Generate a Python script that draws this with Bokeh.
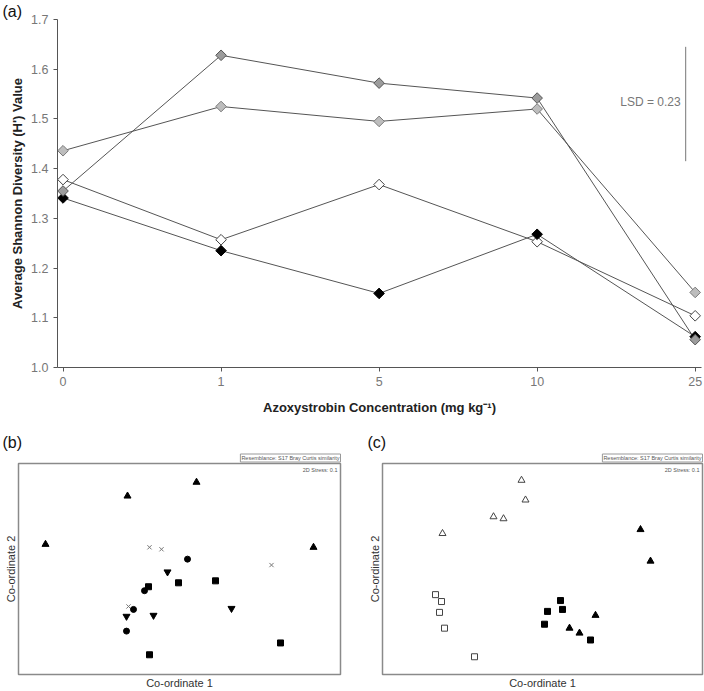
import math
from bokeh.plotting import figure
from bokeh.layouts import column, row
from bokeh.models import Range1d, FixedTicker, Label, Title, PrintfTickFormatter
from bokeh.embed import file_html
from bokeh.resources import INLINE

# ---------------- data: panel (a) ----------------
conc_labels = ["0", "1", "5", "10", "25"]
conc_index = [0, 1, 2, 3, 4]
dark_gray_series = [1.355, 1.628, 1.572, 1.542, 1.056]
light_gray_series = [1.436, 1.525, 1.495, 1.520, 1.151]
open_series = [1.378, 1.257, 1.368, 1.253, 1.104]
black_series = [1.341, 1.235, 1.149, 1.268, 1.062]
y_ticks = [1.0, 1.1, 1.2, 1.3, 1.4, 1.5, 1.6, 1.7]
lsd_value = 0.23
lsd_x = 3.94
lsd_bottom = 1.415

# ---------------- data: panel (b) (nMDS coordinates) ----------------
b_tri_up_x = [-1.34, -0.52, 0.17, 1.34]
b_tri_up_y = [0.25, 0.74, 0.88, 0.22]
b_cross_x = [-0.30, -0.18, 0.92, -0.51]
b_cross_y = [0.22, 0.20, 0.04, -0.38]
b_circle_x = [0.08, -0.35, -0.46, -0.53]
b_circle_y = [0.10, -0.22, -0.41, -0.63]
b_square_x = [-0.31, -0.01, 0.36, 1.01, -0.30]
b_square_y = [-0.18, -0.14, -0.12, -0.75, -0.87]
b_tri_down_x = [-0.12, -0.53, -0.26, 0.52]
b_tri_down_y = [-0.03, -0.48, -0.47, -0.40]

# ---------------- data: panel (c) (nMDS coordinates) ----------------
c_open_tri_x = [-0.21, -0.17, -0.49, -0.39, -1.00]
c_open_tri_y = [0.90, 0.70, 0.53, 0.51, 0.36]
c_fill_tri_x = [0.98, 1.08, 0.53, 0.27, 0.37]
c_fill_tri_y = [0.40, 0.08, -0.47, -0.60, -0.65]
c_open_sq_x = [-1.07, -1.01, -1.03, -0.98, -0.68]
c_open_sq_y = [-0.26, -0.33, -0.44, -0.60, -0.89]
c_fill_sq_x = [0.18, 0.05, 0.20, 0.02, 0.48]
c_fill_sq_y = [-0.32, -0.43, -0.41, -0.56, -0.72]

FONT = "Liberation Sans"

# ================= panel (a) =================
pa = figure(width=704, height=422, x_range=Range1d(-0.035, 4.04), y_range=Range1d(1.0, 1.7),
            output_backend="svg", toolbar_location=None,
            min_border_left=57, min_border_right=3, min_border_top=5, min_border_bottom=55)
pa.grid.visible = False
pa.outline_line_color = None

for ax in (pa.xaxis[0], pa.yaxis[0]):
    ax.axis_line_color = "#555555"
    ax.major_tick_line_color = "#555555"
    ax.major_tick_in = 0
    ax.major_tick_out = 4
    ax.minor_tick_line_color = None
    ax.major_label_text_font = FONT
    ax.major_label_text_font_size = "12.5px"
    ax.major_label_text_color = "#777777"
    ax.axis_label_text_font = FONT
    ax.axis_label_text_font_size = "13px"
    ax.axis_label_text_font_style = "bold"
    ax.axis_label_text_color = "#222222"

pa.xaxis.ticker = FixedTicker(ticks=conc_index)
pa.xaxis.major_label_overrides = {i: lab for i, lab in zip(conc_index, conc_labels)}
pa.xaxis.axis_label = "Azoxystrobin Concentration (mg kg\u207b\u00b9)"
pa.xaxis.axis_label_standoff = 11
pa.yaxis.ticker = FixedTicker(ticks=y_ticks)
pa.yaxis.formatter = PrintfTickFormatter(format="%.1f")
pa.yaxis.axis_label = "Average Shannon Diversity (H') Value"
pa.yaxis.axis_label_standoff = 3

pa.add_layout(Title(text="(a)", align="left", offset=-55, standoff=0,
                    text_font=FONT, text_font_size="16px", text_font_style="normal",
                    text_color="#111111"), "above")

line_col = "#555555"
series = [
    (open_series, "white", "#444444"),
    (black_series, "black", "black"),
    (light_gray_series, "#bdbdbd", "#7a7a7a"),
    (dark_gray_series, "#9c9c9c", "#555555"),
]
for ys, _, _ in series:
    pa.line(conc_index, ys, line_color=line_col, line_width=1)
for ys, fill, edge in series:
    pa.scatter(conc_index, ys, marker="square", angle=math.pi / 4, size=7.5,
               fill_color=fill, line_color=edge, line_width=1)

pa.segment(x0=[lsd_x], y0=[lsd_bottom], x1=[lsd_x], y1=[lsd_bottom + lsd_value],
           line_color="#777777", line_width=1)
pa.add_layout(Label(x=lsd_x, y=lsd_bottom + lsd_value * 0.52, x_offset=-5,
                    text="LSD = %.2f" % lsd_value, text_align="right", text_baseline="middle",
                    text_font=FONT, text_font_size="12px", text_color="#777777"))


# ================= nMDS panels =================
def nmds_panel(width, left, right, letter, letter_dx, xr):
    p = figure(width=width, height=269, x_range=Range1d(-xr, xr), y_range=Range1d(-1.07, 1.07),
               output_backend="svg", toolbar_location=None,
               min_border_left=left, min_border_right=right, min_border_top=41, min_border_bottom=15)
    p.grid.visible = False
    p.outline_line_color = "#8a8a8a"
    p.outline_line_width = 1.5
    for ax, lab in ((p.xaxis[0], "Co-ordinate 1"), (p.yaxis[0], "Co-ordinate 2")):
        ax.ticker = FixedTicker(ticks=[])
        ax.axis_line_color = None
        ax.major_tick_line_color = None
        ax.minor_tick_line_color = None
        ax.major_tick_out = 0
        ax.major_tick_in = 0
        ax.major_label_standoff = 0
        ax.major_label_text_font_size = "0px"
        ax.axis_label = lab
        ax.axis_label_text_font = FONT
        ax.axis_label_text_font_size = "11px"
        ax.axis_label_text_font_style = "normal"
        ax.axis_label_text_color = "#333333"
        ax.axis_label_standoff = 2
    p.add_layout(Title(text="Resemblance: S17 Bray Curtis similarity", align="right", offset=0,
                       standoff=3, text_font=FONT, text_font_size="5.5px",
                       text_font_style="normal", text_color="#555555", padding=1,
                       border_line_color="#999999", border_line_width=1,
                       background_fill_color="white"), "above")
    p.add_layout(Title(text=letter, align="left", offset=letter_dx, standoff=0,
                       text_font=FONT, text_font_size="16px", text_font_style="normal",
                       text_color="#111111"), "above")
    p.add_layout(Label(x=xr, y=1.07, x_offset=-3, y_offset=-3, text="2D Stress: 0.1",
                       text_align="right", text_baseline="top", text_font=FONT,
                       text_font_size="5.5px", text_color="#555555"))
    return p


pb = nmds_panel(358, 18, 18, "(b)", -16, 1.61)
pb.scatter(b_tri_up_x, b_tri_up_y, marker="triangle", size=7, color="black")
pb.scatter(b_cross_x, b_cross_y, marker="x", size=6, line_color="#777777", line_width=1)
pb.scatter(b_circle_x, b_circle_y, marker="circle", size=6, color="black")
pb.scatter(b_square_x, b_square_y, marker="square", size=6, color="black")
pb.scatter(b_tri_down_x, b_tri_down_y, marker="inverted_triangle", size=7, color="black")

pc = nmds_panel(346, 24, 2, "(c)", -15, 1.60)
pc.scatter(c_open_tri_x, c_open_tri_y, marker="triangle", size=7, fill_color="white",
           line_color="#444444", line_width=1)
pc.scatter(c_fill_tri_x, c_fill_tri_y, marker="triangle", size=7, color="black")
pc.scatter(c_open_sq_x, c_open_sq_y, marker="square", size=6, fill_color="white",
           line_color="#444444", line_width=1)
pc.scatter(c_fill_sq_x, c_fill_sq_y, marker="square", size=6, color="black")

layout = column(pa, row(pb, pc))
open("out.html", "w").write(file_html(layout, INLINE))
